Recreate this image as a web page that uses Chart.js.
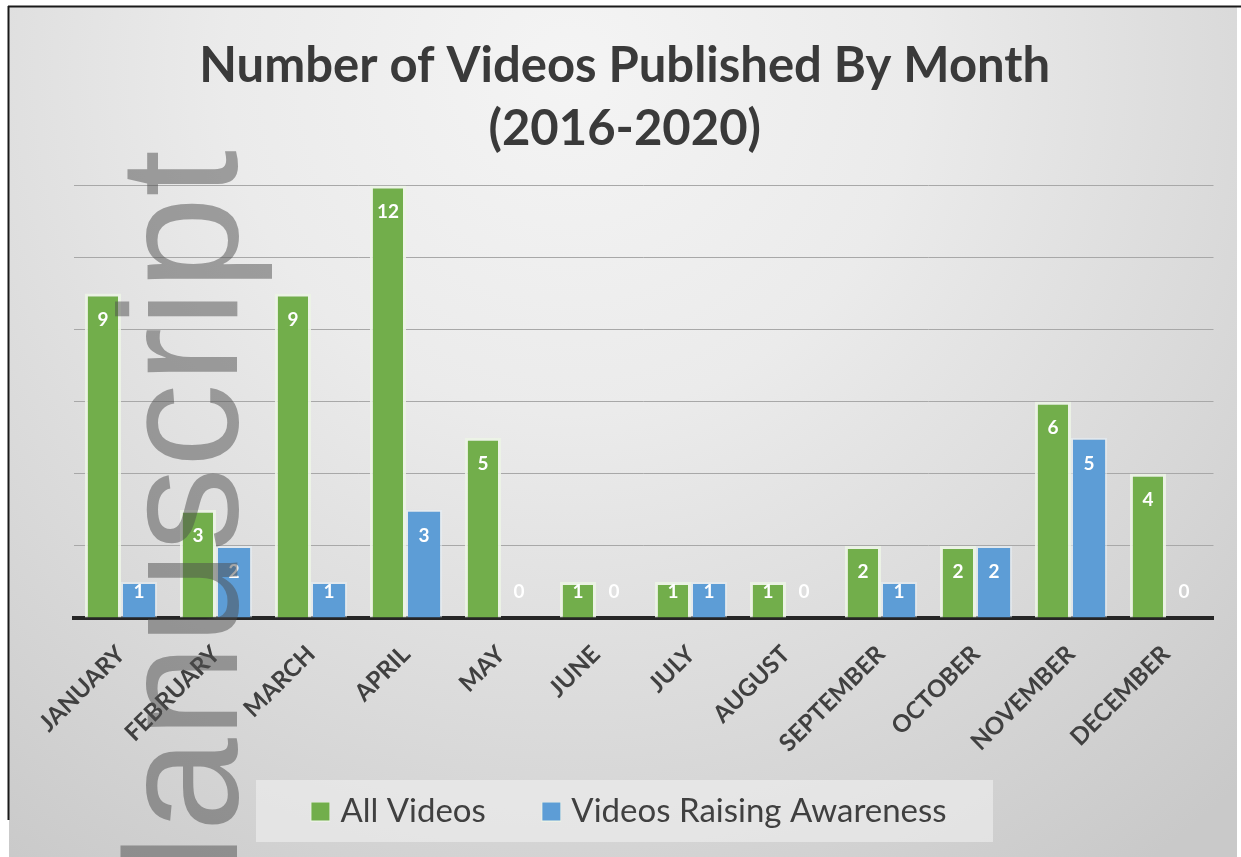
<!DOCTYPE html>
<html>
<head>
<meta charset="utf-8">
<script src="https://cdn.jsdelivr.net/npm/chart.js@4.4.0/dist/chart.umd.min.js"></script>
<style>
html,body{margin:0;padding:0;background:#fff;overflow:hidden}
#wrap{width:1241px;height:857px;position:relative}
</style>
</head>
<body>
<div id="wrap"><canvas id="c" width="1241" height="857"></canvas></div>
<script>
// ---- data ----
const months = ['JANUARY','FEBRUARY','MARCH','APRIL','MAY','JUNE','JULY','AUGUST','SEPTEMBER','OCTOBER','NOVEMBER','DECEMBER'];
const allVideos = [9,3,9,12,5,1,1,1,2,2,6,4];
const awarenessVideos = [1,2,1,3,0,0,1,0,1,2,5,0];
const seriesNames = ['All Videos','Videos Raising Awareness'];
const titleLines = ['Number of Videos Published By Month','(2016-2020)'];
const yMin = 0, yMax = 12, yStep = 2;
const watermarkText = 'Manuscript';

const greenColor = '#72ae4b';
const blueColor = '#5d9dd6';

// legend swatch: 34x20 canvas, coloured square in its right 20px
function swatch(color){
  const c = document.createElement('canvas');
  c.width = 34; c.height = 20;
  const g = c.getContext('2d');
  g.fillStyle = 'rgba(235,242,230,0.9)';
  g.fillRect(14,0,20,20);
  g.fillStyle = color;
  g.fillRect(15,1,18,18);
  return c;
}
const swatches = [swatch(greenColor), swatch(blueColor)];

const bgPlugin = {
  id: 'bg',
  beforeDraw(chart){
    const ctx = chart.ctx;
    ctx.save();
    ctx.fillStyle = '#ffffff';
    ctx.fillRect(0,0,chart.width,chart.height);
    const g = ctx.createRadialGradient(570, 70, 0, 570, 70, 980);
    g.addColorStop(0, '#f4f4f4');
    g.addColorStop(0.35, '#ebebeb');
    g.addColorStop(0.7, '#d9d9d9');
    g.addColorStop(1, '#c9c9c9');
    ctx.fillStyle = g;
    ctx.fillRect(9, 7, 1228, 850);
    // frame lines
    ctx.strokeStyle = '#1a1a1a';
    ctx.lineWidth = 2;
    ctx.beginPath();
    ctx.moveTo(8, 6.5); ctx.lineTo(1241, 6.5);
    ctx.moveTo(8.5, 6); ctx.lineTo(8.5, 820);
    ctx.stroke();
    // legend backdrop
    ctx.fillStyle = 'rgba(240,240,240,0.6)';
    ctx.fillRect(256, 780, 737, 62);
    ctx.restore();
  }
};

// let the rotated month labels run below the axis box (no clipping)
const unclipTicks = {
  id: 'unclipTicks',
  afterLayout(chart){
    const x = chart.scales.x;
    if (x) x._computeLabelArea = function(){ return undefined; };
  }
};

const valueLabels = {
  id: 'valueLabels',
  afterDatasetsDraw(chart){
    const ctx = chart.ctx;
    ctx.save();
    ctx.font = 'bold 19px Lato';
    ctx.fillStyle = '#ffffff';
    ctx.textAlign = 'center';
    ctx.textBaseline = 'middle';
    chart.data.datasets.forEach((ds, di) => {
      const meta = chart.getDatasetMeta(di);
      meta.data.forEach((el, i) => {
        const y = Math.min(el.y + 26, el.base - 26);
        ctx.fillText(String(ds.data[i]), el.x, y);
      });
    });
    ctx.restore();
  }
};

const watermark = {
  id: 'watermark',
  afterDraw(chart){
    const ctx = chart.ctx;
    ctx.save();
    ctx.translate(237, 150);
    ctx.rotate(-Math.PI/2);
    ctx.font = '168px "Liberation Sans"';
    ctx.fillStyle = 'rgba(78,78,78,0.5)';
    ctx.strokeStyle = 'rgba(78,78,78,0.5)';
    ctx.lineWidth = 1.5;
    ctx.textAlign = 'right';
    ctx.textBaseline = 'alphabetic';
    ctx.fillText(watermarkText, 0, 0);
    ctx.restore();
  }
};

new Chart(document.getElementById('c'), {
  type: 'bar',
  data: {
    labels: months,
    datasets: [
      { label: seriesNames[0], data: allVideos, backgroundColor: greenColor,
        borderColor: 'rgba(236,244,230,0.9)', borderWidth: {top:3,left:3,right:3,bottom:0}, borderSkipped: false },
      { label: seriesNames[1], data: awarenessVideos, backgroundColor: blueColor,
        borderColor: 'rgba(232,240,248,0.55)', borderWidth: {top:2,left:2,right:2,bottom:0}, borderSkipped: false }
    ]
  },
  options: {
    responsive: false,
    animation: false,
    events: [],
    categoryPercentage: 0.76,
    barPercentage: 1.0,
    layout: { padding: { left: 36, right: 27.5, top: 0, bottom: 19 } },
    plugins: {
      title: {
        display: true,
        text: titleLines,
        color: '#3a3a3a',
        font: { family: 'Lato', weight: 'bold', size: 49, lineHeight: 1.3 },
        padding: { top: 34, bottom: 24 }
      },
      legend: {
        display: true,
        position: 'bottom',
        labels: {
          font: { family: 'Lato', size: 33 },
          color: '#404040',
          usePointStyle: true,
          pointStyleWidth: 21,
          boxHeight: 20,
          padding: 48,
          generateLabels(chart){
            const items = Chart.defaults.plugins.legend.labels.generateLabels(chart);
            items.forEach((it, i) => { it.pointStyle = swatches[i]; });
            return items;
          }
        }
      },
      tooltip: { enabled: false }
    },
    scales: {
      x: {
        grid: { display: false },
        border: { display: true, color: '#262626', width: 4 },
        ticks: {
          minRotation: 45, maxRotation: 45,
          color: '#404040',
          font: { family: 'Lato', weight: 'bold', size: 24 },
          padding: 14
        },
        afterFit(s){ s.height = 129; }
      },
      y: {
        min: yMin, max: yMax,
        ticks: { display: false, stepSize: yStep },
        grid: { color: '#a8a8a8', lineWidth: 1, drawTicks: false },
        border: { display: false },
        afterFit(s){ s.width = 37.5; }
      }
    }
  },
  plugins: [bgPlugin, unclipTicks, valueLabels, watermark]
});
</script>
</body>
</html>
